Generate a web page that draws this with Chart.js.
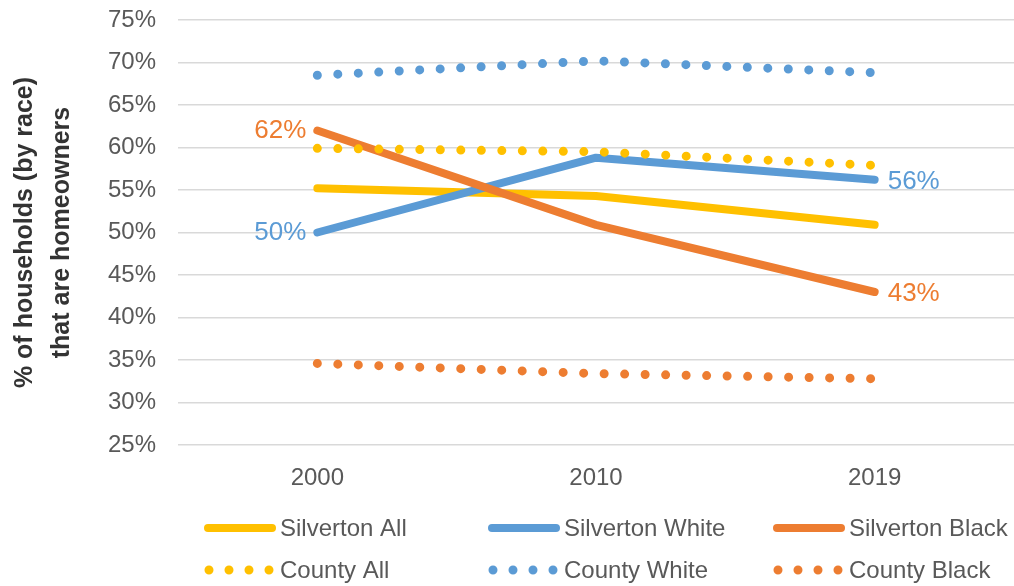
<!DOCTYPE html>
<html>
<head>
<meta charset="utf-8">
<script src="https://cdn.jsdelivr.net/npm/chart.js@4"></script>
<style>
  html, body { margin: 0; padding: 0; background: #fff; }
  #wrap { width: 1014px; height: 586px; }
</style>
</head>
<body>
<div id="wrap"><canvas id="chart"></canvas></div>
<script>
// datos
const years = ['2000', '2010', '2019'];
const silvertonAll = [55.2, 54.3, 50.9];
const silvertonWhite = [50.0, 58.8, 56.2];
const silvertonBlack = [62.0, 50.9, 43.0];
const countyAll = [59.9, 59.5, 57.9];
const countyWhite = [68.5, 70.2, 68.8];
const countyBlack = [34.6, 33.4, 32.8];
const yTicks = [25, 30, 35, 40, 45, 50, 55, 60, 65, 70, 75];

const YELLOW = '#FFC000';
const BLUE = '#5B9BD5';
const ORANGE = '#ED7D31';
const FONT = '"Liberation Sans", Arial, sans-serif';

function solid(label, data, color, order) {
  return {
    label, data, order,
    borderColor: color,
    backgroundColor: color,
    borderWidth: 8,
    borderCapStyle: 'round',
    borderJoinStyle: 'round',
    pointRadius: 0,
    pointHoverRadius: 0,
    tension: 0,
    fill: false
  };
}

function dotted(label, data, color, order) {
  return {
    label, data, order,
    borderColor: color,
    backgroundColor: color,
    borderWidth: 9,
    borderDash: [0, 20.5],
    borderCapStyle: 'round',
    pointRadius: 0,
    pointHoverRadius: 0,
    tension: 0,
    fill: false,
    dotted: true
  };
}

// etiquetas de inicio y fin (solo Silverton White / Black)
const endLabels = {
  id: 'endLabels',
  afterDatasetsDraw(chart) {
    const ctx = chart.ctx;
    ctx.save();
    ctx.font = '26px ' + FONT;
    ctx.textBaseline = 'middle';
    chart.data.datasets.forEach((ds, i) => {
      if (!ds.showEnds) return;
      const pts = chart.getDatasetMeta(i).data;
      const first = pts[0];
      const last = pts[pts.length - 1];
      ctx.fillStyle = ds.borderColor;
      ctx.textAlign = 'right';
      ctx.fillText(Math.round(ds.data[0]) + '%', first.x - 11, first.y);
      ctx.textAlign = 'left';
      ctx.fillText(Math.round(ds.data[ds.data.length - 1]) + '%', last.x + 13, last.y + 2);
    });
    ctx.restore();
  }
};

// leyenda en cuadrícula 3 x 2
const gridLegend = {
  id: 'gridLegend',
  afterDraw(chart) {
    const ctx = chart.ctx;
    const cols = [204, 488, 773];
    const rows = [528, 570];
    ctx.save();
    ctx.font = '24px ' + FONT;
    ctx.textBaseline = 'middle';
    ctx.textAlign = 'left';
    chart.data.datasets.forEach((ds, i) => {
      const x = cols[i % 3];
      const y = rows[Math.floor(i / 3)];
      ctx.strokeStyle = ds.borderColor;
      ctx.lineCap = 'round';
      ctx.beginPath();
      if (ds.dotted) {
        ctx.lineWidth = 9;
        ctx.setLineDash([0, 20]);
        ctx.moveTo(x + 5, y);
        ctx.lineTo(x + 66, y);
      } else {
        ctx.lineWidth = 8;
        ctx.setLineDash([]);
        ctx.moveTo(x + 4, y);
        ctx.lineTo(x + 68, y);
      }
      ctx.stroke();
      ctx.setLineDash([]);
      ctx.fillStyle = '#595959';
      ctx.fillText(ds.label, x + 76, y + 1);
    });
    ctx.restore();
  }
};

const datasets = [
  solid('Silverton All', silvertonAll, YELLOW, 5),
  solid('Silverton White', silvertonWhite, BLUE, 4),
  solid('Silverton Black', silvertonBlack, ORANGE, 3),
  dotted('County All', countyAll, YELLOW, 2),
  dotted('County White', countyWhite, BLUE, 1),
  dotted('County Black', countyBlack, ORANGE, 0)
];
datasets[1].showEnds = true;
datasets[2].showEnds = true;

new Chart(document.getElementById('chart'), {
  type: 'line',
  data: { labels: years, datasets },
  plugins: [endLabels, gridLegend],
  options: {
    responsive: true,
    maintainAspectRatio: false,
    animation: false,
    layout: { padding: { top: 20, right: 0, bottom: 0, left: 0 } },
    plugins: {
      legend: { display: false },
      tooltip: { enabled: false }
    },
    scales: {
      x: {
        offset: true,
        grid: { display: false },
        border: { display: false },
        ticks: {
          color: '#595959',
          font: { family: FONT, size: 24 },
          padding: 11
        },
        afterFit(scale) { scale.height = 141; }
      },
      y: {
        min: 25,
        max: 75,
        afterBuildTicks(scale) {
          scale.ticks = yTicks.map(v => ({ value: v }));
        },
        grid: { color: '#d9d9d9', lineWidth: 1.5, drawTicks: false },
        border: { display: false },
        ticks: {
          color: '#595959',
          font: { family: FONT, size: 24 },
          padding: 22,
          callback: v => v + '%'
        },
        title: {
          display: true,
          text: ['% of households (by race)', 'that are homeowners'],
          color: '#333333',
          font: { family: FONT, size: 25, weight: 'bold', lineHeight: 1.5 },
          padding: { top: 6, bottom: 0 }
        },
        afterFit(scale) {
          scale.width = 178;
          scale.paddingTop = 0;
          scale.paddingBottom = 0;
        }
      }
    }
  }
});
</script>
</body>
</html>
